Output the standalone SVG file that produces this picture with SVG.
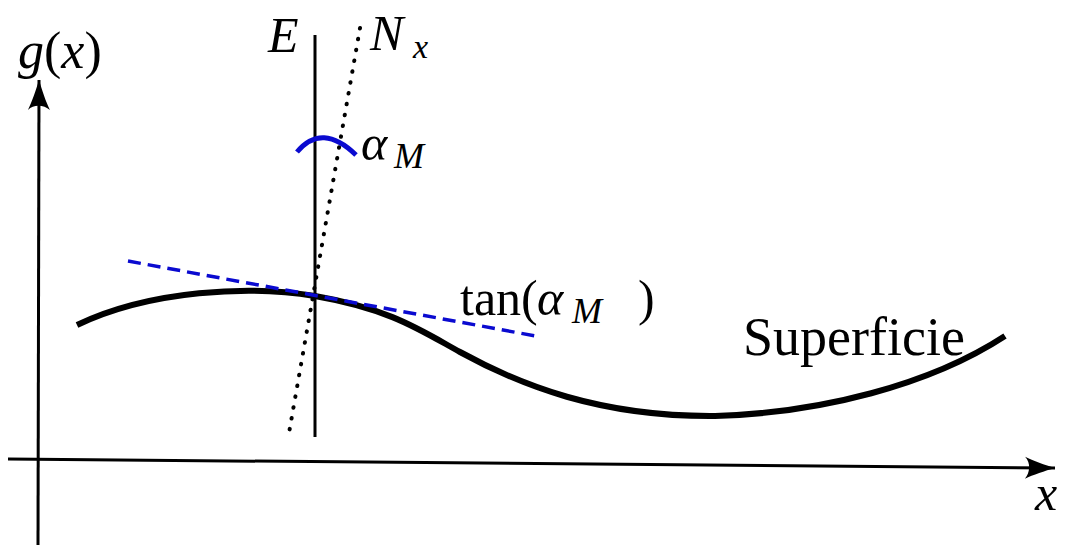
<svg xmlns="http://www.w3.org/2000/svg" width="1072" height="545" viewBox="0 0 1072 545">
<defs>
<marker id="arr" viewBox="-32 -12 34 24" refX="0" refY="0" markerWidth="34" markerHeight="24" markerUnits="userSpaceOnUse" orient="auto">
<path d="M0,0 C-10,3 -22,7 -30,11 C-25,5 -24,-5 -30,-11 C-22,-7 -10,-3 0,0 Z" fill="#000"/>
</marker>
</defs>
<rect width="1072" height="545" fill="#fff"/>
<g id="connectors">
<line id="y-axis" stroke="#000" stroke-width="3" x1="38" y1="545" x2="39" y2="80" marker-end="url(#arr)"/>
<line id="x-axis" stroke="#000" stroke-width="3" x1="8" y1="459" x2="1055" y2="468" marker-end="url(#arr)"/>
<line id="E-line" stroke="#000" stroke-width="3" x1="315" y1="35" x2="315" y2="437"/>
<line id="Nx-line" stroke="#000" stroke-width="4" stroke-linecap="round" stroke-dasharray="0.5 10.5" x1="360" y1="28" x2="289" y2="433"/>
<path id="superficie-curve" d="M77,325 C150,290 250,285 315,296 C390,309 420,330 460,352 C520,385 600,417 715,416 C820,413 930,385 1005,336" fill="none" stroke="#000" stroke-width="6"/>
<line id="tangent" stroke="#0a0ad0" stroke-width="3.5" stroke-dasharray="13 7" x1="128" y1="261" x2="541" y2="337"/>
<path id="alpha-arc" d="M297,152 Q322,122 356,155" fill="none" stroke="#0a0ad0" stroke-width="5"/>
</g>
<g id="label-gx"><text x="18" y="68" font-size="52" style="font-family:'Liberation Serif',serif"><tspan font-style="italic">g</tspan>(<tspan font-style="italic">x</tspan>)</text></g>
<g id="label-E"><text x="268" y="52" font-size="50" style="font-family:'Liberation Serif',serif;font-style:italic">E</text></g>
<g id="label-Nx"><text x="370" y="50" font-size="50" style="font-family:'Liberation Serif',serif;font-style:italic">N</text><text x="413" y="58" font-size="34" style="font-family:'Liberation Serif',serif;font-style:italic">x</text></g>
<g id="label-alpha"><text x="361" y="160" font-size="50" style="font-family:'Liberation Serif',serif;font-style:italic">α</text><text x="394" y="168" font-size="36" style="font-family:'Liberation Serif',serif;font-style:italic">M</text></g>
<g id="label-tan"><text x="460" y="315" font-size="50" style="font-family:'Liberation Serif',serif">tan(</text><text x="537" y="315" font-size="50" style="font-family:'Liberation Serif',serif;font-style:italic">α</text><text x="572" y="323" font-size="36" style="font-family:'Liberation Serif',serif;font-style:italic">M</text><text x="638" y="315" font-size="50" style="font-family:'Liberation Serif',serif">)</text></g>
<g id="label-superficie"><text x="743" y="355" font-size="54" style="font-family:'Liberation Serif',serif">Superficie</text></g>
<g id="label-x"><text x="1035" y="510" font-size="50" style="font-family:'Liberation Serif',serif;font-style:italic">x</text></g>
</svg>
